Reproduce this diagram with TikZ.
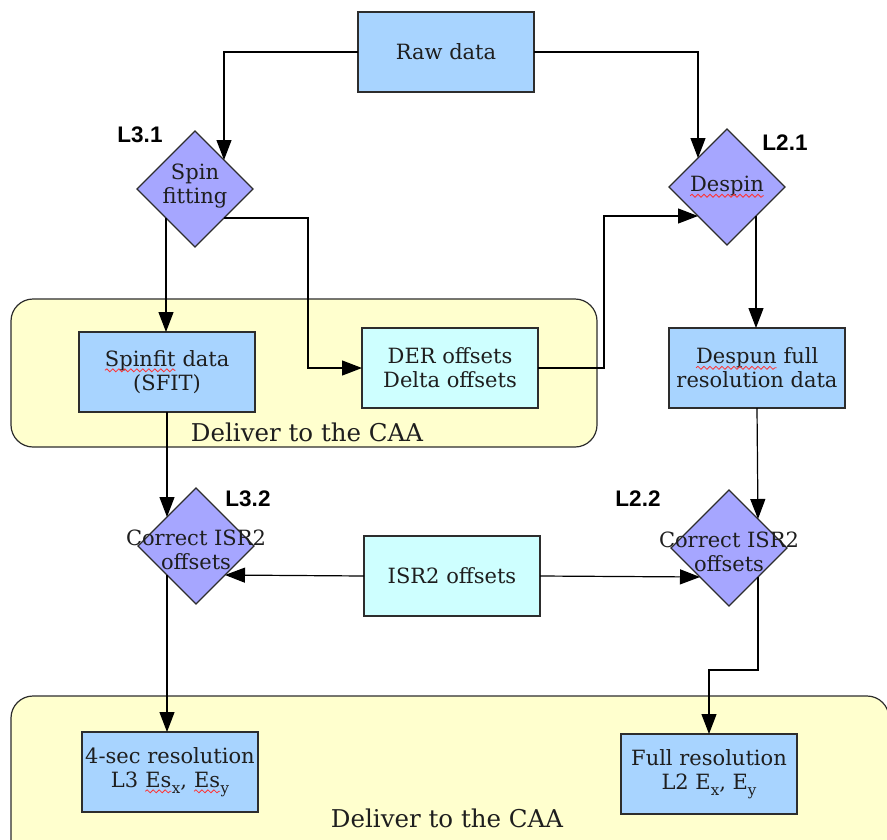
\documentclass[tikz,border=0pt]{standalone}
\usepackage{fontspec}
\setmainfont{DejaVu Serif}
\newfontfamily\levelfont{Liberation Sans Bold}
\usetikzlibrary{
    arrows.meta,
    shapes.geometric,
    decorations.pathmorphing
}
\definecolor{box blue}{RGB}{168,212,255}
\definecolor{box cyan}{RGB}{206,255,255}
\definecolor{step violet}{RGB}{166,166,255}
\definecolor{deliver yellow}{RGB}{255,255,206}
\definecolor{edge gray}{RGB}{45,45,45}
\definecolor{text gray}{RGB}{30,30,30}
\tikzset{
    % Boxes
    data box/.style={draw=edge gray,line width=1.2pt,fill=box blue,minimum width=176,minimum height=80,
        inner sep=0pt,outer sep=0pt,align=center,text=text gray,font=\fontsize{21}{24}\selectfont},
    offset box/.style={data box,fill=box cyan},
    decision/.style={diamond,draw=edge gray,line width=1.2pt,fill=step violet,aspect=1,
        minimum width=116,minimum height=116,inner sep=0pt,outer sep=0pt},
    diamond text/.style={align=center,text=text gray,font=\fontsize{21}{24}\selectfont,inner sep=0pt},
    deliver area/.style={draw=edge gray,line width=1.2pt,fill=deliver yellow,rounded corners=22},
    deliver text/.style={text=text gray,font=\fontsize{24.5}{28}\selectfont,inner sep=0pt},
    level/.style={font=\levelfont\fontsize{22.5}{26}\selectfont,inner sep=0pt},
    %
    % Arrows
    arrow tip/.tip={Triangle[length=20pt,width=15pt]},
    arr/.style={->,>={arrow tip},line width=1.2pt},
}
% red spell-check underline
\newcommand\spellmark[1]{\tikz[baseline=(w.base),x=1pt,y=1pt]{\node[inner sep=0pt,outer sep=0pt,anchor=base,
        minimum width=0pt,minimum height=0pt,draw=none,fill=none,align=none] (w) {#1};
    \draw[red!80,line width=.8pt,decorate,decoration={snake,amplitude=1.5pt,segment length=6pt}]
        ([yshift=-4pt]w.base west) -- ([yshift=-4pt]w.base east);}}
% low subscript
\newcommand\lowsub[1]{\raisebox{-6pt}{\fontsize{15}{15}\selectfont #1}}

\begin{document}
\begin{tikzpicture}[x=1pt,y=-1pt]
    \clip (0,0) rectangle (887,839);
    \fill[white] (0,0) rectangle (887,839);
    % delivery areas
    \draw[deliver area] (11,299) rectangle (597,447);
    \node[deliver text] at (307,432) {Deliver to the CAA};
    \draw[deliver area] (11,696) rectangle (889,870);
    \node[deliver text] at (447,818) {Deliver to the CAA};
    %
    \node[data box] (raw) at (446,52) {Raw data};
    \node[decision,label={[diamond text,yshift=3pt]center:{Spin\\fitting}}] (fit) at (195,189) {};
    \node[decision,label={[diamond text]center:{\spellmark{Despin}}}] (despin) at (727,187) {};
    \node[level] at (140,135) {L3.1};
    \node[level] at (785,143) {L2.1};
    %
    \node[data box] (sfit) at (167,372) {\spellmark{Spinfit} data\\(SFIT)};
    \node[offset box] (der) at (450,368) {DER offsets\\Delta offsets};
    \node[data box] (despun) at (757,368) {\spellmark{Despun} full\\resolution data};
    %
    \node[decision,label={[diamond text,yshift=-4pt]center:{Correct ISR2\\offsets}}] (corr3) at (196,546) {};
    \node[decision,label={[diamond text,yshift=-4pt]center:{Correct ISR2\\offsets}}] (corr2) at (729,548) {};
    \node[offset box] (isr) at (452,576) {ISR2 offsets};
    \node[level] at (248,499) {L3.2};
    \node[level] at (638,499) {L2.2};
    %
    \node[data box] (fourSec) at (170,772) {4-sec resolution\\L3 \spellmark{Es}\lowsub{x}, \spellmark{Es}\lowsub{y}};
    \node[data box] (fullRes) at (709,774) {Full resolution\\L2 E\lowsub{x}, E\lowsub{y}};
    %
    % connectors
    \draw[arr] (raw.west) -| (fit.north east);
    \draw[arr] (raw.east) -| (despin.north west);
    \draw[arr] (fit.south west) -- (fit.south west |- sfit.north);
    \draw[arr] (fit.south east) -- ++(84,0) |- (der.west);
    \draw[arr] (der.east) -- ++(66,0) |- (despin.south west);
    \draw[arr] (despin.south east) -- (despin.south east |- despun.north);
    \draw[arr] (sfit.south) -- (corr3.north west);
    \draw[arr] (despun.south) -- (corr2.north east);
    \draw[arr] (isr.west) -- (corr3.south east);
    \draw[arr] (isr.east) -- (corr2.south west);
    \draw[arr] (corr3.south west) -- (corr3.south west |- fourSec.north);
    \draw[arr] (corr2.south east) -- ++(0,93) -| (fullRes.north);
\end{tikzpicture}
\end{document}
